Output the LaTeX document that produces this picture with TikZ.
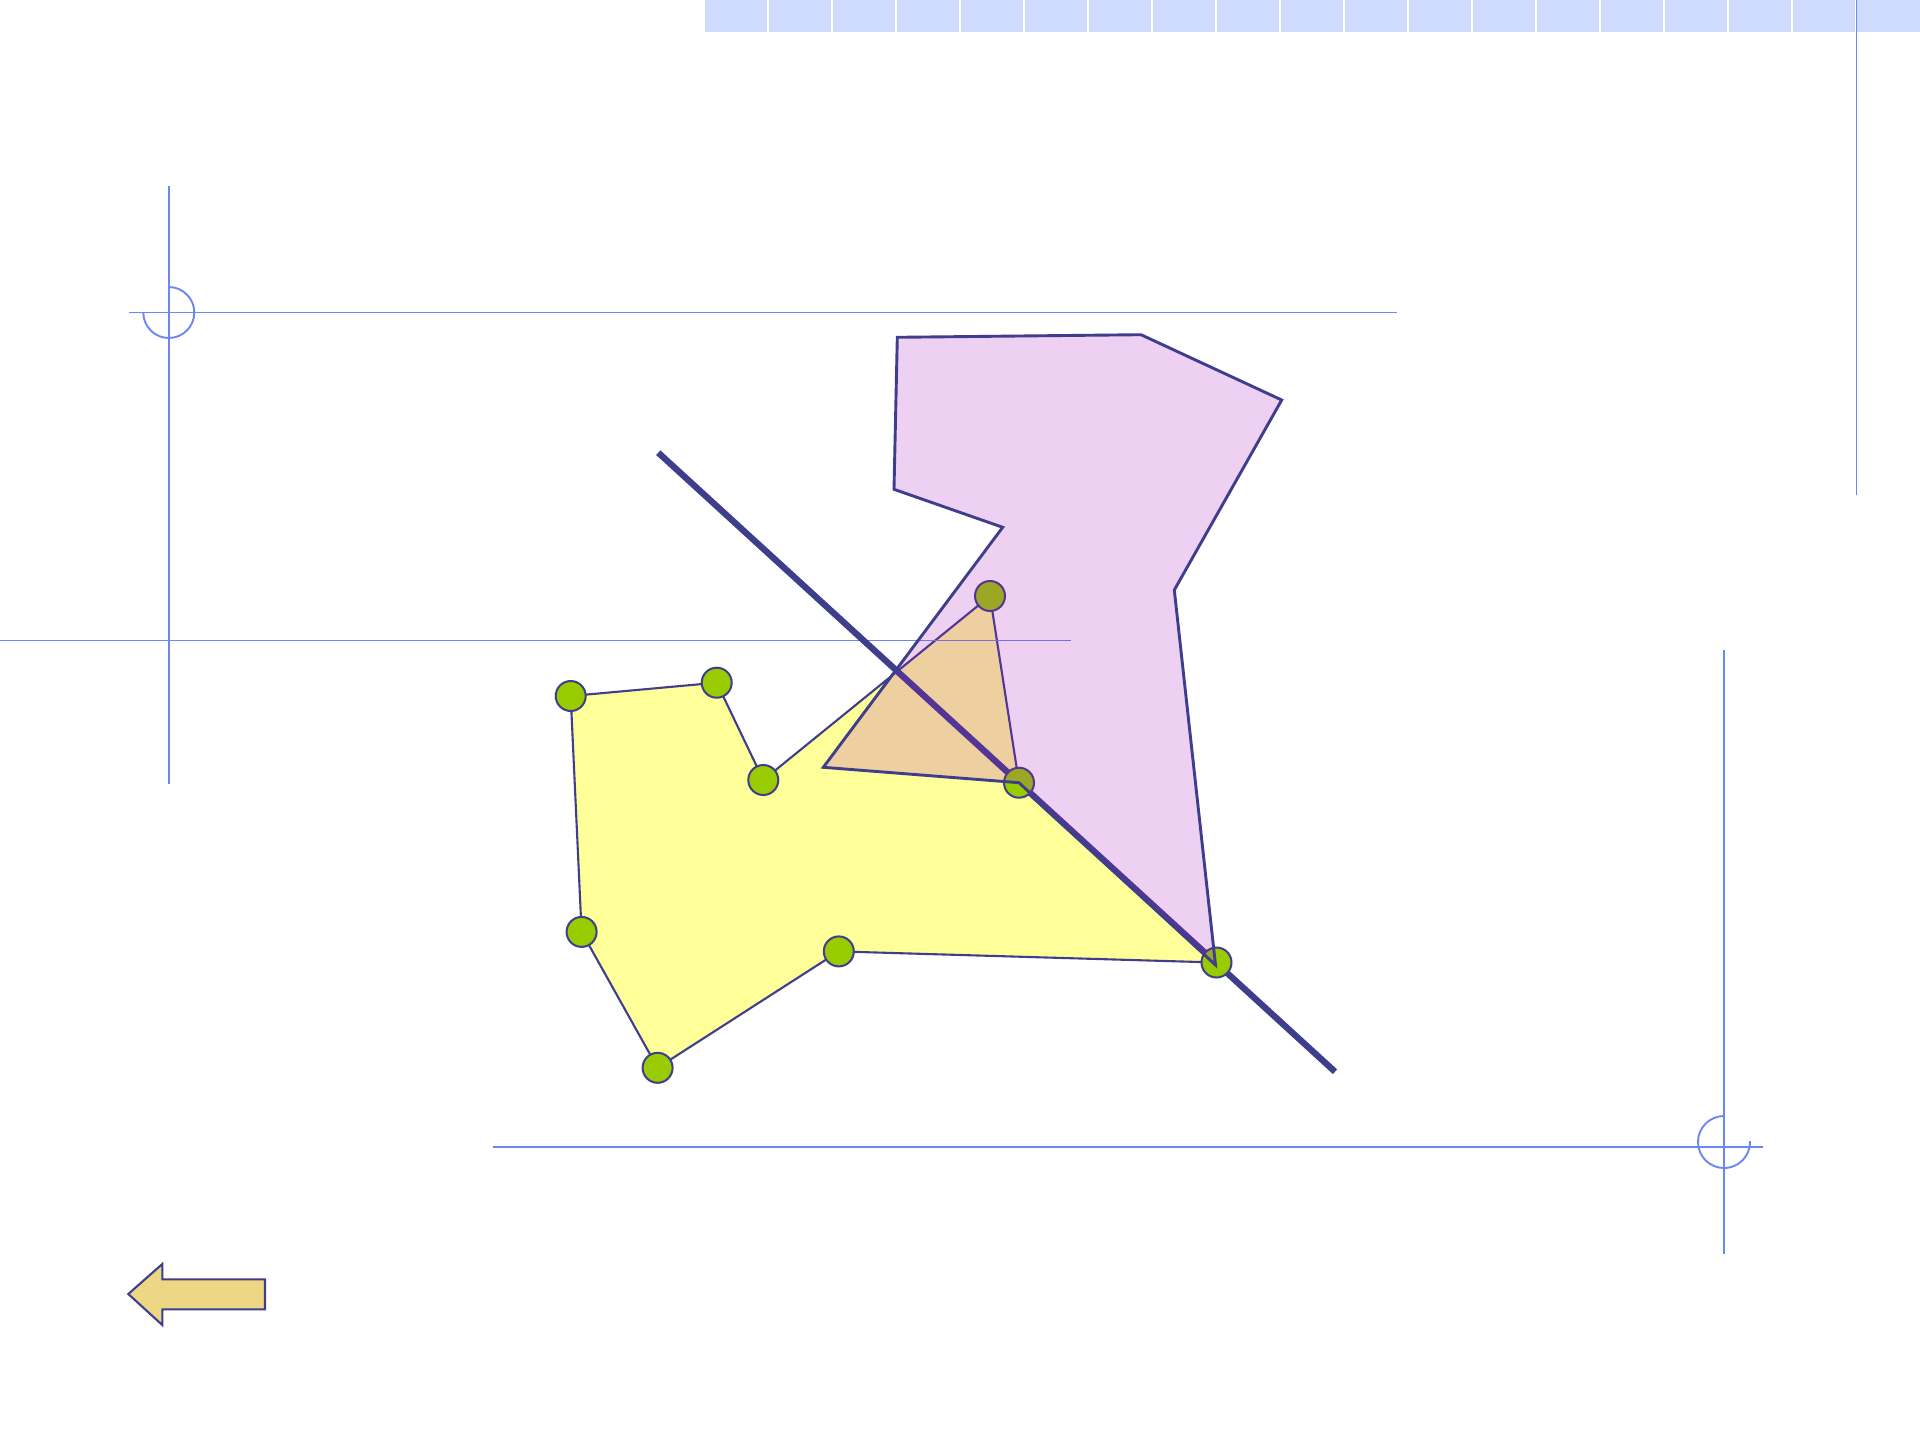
\documentclass[tikz,border=0pt]{standalone}
\definecolor{guideblue}{RGB}{108,134,242}
\definecolor{navy}{RGB}{62,62,140}
\definecolor{vgreen}{RGB}{153,204,0}
\definecolor{yellowfill}{RGB}{255,255,153}
\definecolor{pinkbase}{RGB}{170,20,190}
\definecolor{barblue}{RGB}{207,219,252}
\definecolor{arrowgold}{RGB}{237,215,133}
\begin{document}
\begin{tikzpicture}[x=1pt,y=-1pt,
  guide/.style={draw=guideblue, line width=1.9pt},
  outline/.style={draw=navy, line width=2.9pt, line join=miter},
  thinline/.style={draw=navy, line width=2.1pt, line join=miter},
  vertex/.style={circle, draw=navy, line width=2pt, fill=vgreen, minimum size=30pt, inner sep=0pt},
  barcell/.style={fill=barblue, draw=none}]
\useasboundingbox (0,0) rectangle (1920,1440);
\fill[white] (0,0) rectangle (1920,1440);
% top bar
\foreach \i in {0,...,17} {
  \fill[barcell] ({705+64*\i},0) rectangle ({705+64*\i+62},32);
}
\fill[barcell] (1857,0) rectangle (1920,32);
% coordinates
\coordinate (A) at (570.7,696);
\coordinate (B) at (716.7,682.7);
\coordinate (C) at (763.3,780);
\coordinate (D) at (990,596);
\coordinate (E) at (1019,782.7);
\coordinate (F) at (1216.5,962.5);
\coordinate (G) at (838.8,951.4);
\coordinate (H) at (657.6,1067.8);
\coordinate (I) at (581.6,931.9);
\coordinate (P1) at (897.3,337.3);
\coordinate (P2) at (1141,334.7);
\coordinate (P3) at (1281.7,400);
\coordinate (P4) at (1174.3,590);
\coordinate (P5) at (1215.5,965);
\coordinate (P7) at (823.3,767.3);
\coordinate (P8) at (1002.7,527.3);
\coordinate (P9) at (894,489.3);
\coordinate (T1) at (658.3,452.7);
\coordinate (T2) at (1335,1071.7);
% guide lines
\coordinate (v1a) at (1856.5,0);   \coordinate (v1b) at (1856.5,495);
\coordinate (v2a) at (168.8,186);  \coordinate (v2b) at (168.8,784);
\coordinate (h2a) at (129,312.5);  \coordinate (h2b) at (1397,312.5);
\coordinate (v3a) at (1724,650);   \coordinate (v3b) at (1724,1254);
\coordinate (h3a) at (493,1147);   \coordinate (h3b) at (1763,1147);
\coordinate (h1a) at (0,640.5);    \coordinate (h1b) at (1071,640.5);
\draw[guide] (v1a) -- (v1b);
\draw[guide] (v2a) -- (v2b);
\draw[guide] (h2a) -- (h2b);
\draw[guide] (168.8,287) arc[start angle=90, end angle=-180, radius=25.5pt];
\draw[guide] (v3a) -- (v3b);
\draw[guide] (h3a) -- (h3b);
\draw[guide] (1724,1116) arc[start angle=90, end angle=362, radius=26pt];
% yellow polygon
\filldraw[fill=yellowfill, thinline] (A) -- (B) -- (C) -- (D) -- (E) -- (F) -- (G) -- (H) -- (I) -- cycle;
\draw[guide] (h1a) -- (h1b);
% thick clipping line
\draw[draw=navy, line width=6.3pt] (T1) -- (T2);
% vertices
\foreach \p in {A,B,C,D,E,F,G,H,I} {
  \node[vertex] (n\p) at (\p) {};
}
% pink translucent polygon
\fill[pinkbase, fill opacity=0.2] (P1) -- (P2) -- (P3) -- (P4) -- (P5) -- (E) -- (P7) -- (P8) -- (P9) -- cycle;
\draw[outline] (P1) -- (P2) -- (P3) -- (P4) -- (P5) -- (E) -- (P7) -- (P8) -- (P9) -- cycle;
% back arrow
\coordinate (a1) at (128.3,1294);
\coordinate (a2) at (162.3,1264);
\coordinate (a3) at (162.3,1279.3);
\coordinate (a4) at (265,1279.3);
\coordinate (a5) at (265,1309.3);
\coordinate (a6) at (162.3,1309.3);
\coordinate (a7) at (162.3,1325);
\filldraw[fill=arrowgold, thinline] (a1) -- (a2) -- (a3) -- (a4) -- (a5) -- (a6) -- (a7) -- cycle;
\end{tikzpicture}
\end{document}
